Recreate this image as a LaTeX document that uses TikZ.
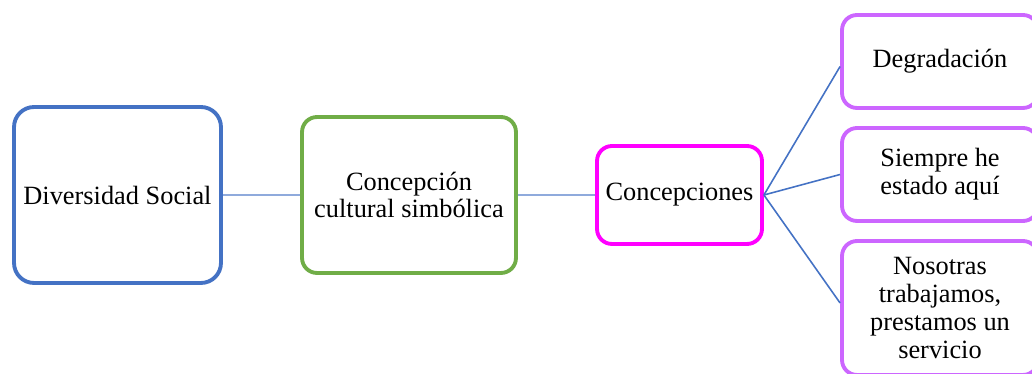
\documentclass[tikz,border=0pt]{standalone}
\usepackage{fontspec}
\setmainfont{Liberation Serif}
\usetikzlibrary{calc}
\definecolor{azul}{HTML}{4472C4}
\definecolor{verde}{HTML}{70AD47}
\definecolor{magenta}{HTML}{FF00FF}
\definecolor{violeta}{HTML}{CC66FF}
\definecolor{enlace}{HTML}{8FAADC}
\begin{document}
\begin{tikzpicture}[x=0.02cm,y=-0.02cm,
  caja/.style={draw=#1,line width=2.2pt,rounded corners=0.3cm,align=center,
    font=\fontsize{15}{15.8}\selectfont,inner sep=2pt,fill=white},
  recto/.style={enlace,line width=1.2pt},
  rama/.style={azul,line width=0.9pt}]

\useasboundingbox (0,0) rectangle (1032,374);
\clip (0,0) rectangle (1032,374);

\node[caja=azul,rounded corners=0.4cm,minimum width=4.14cm,minimum height=3.52cm] (diversidad) at (117.5,195) {Diversidad Social};
\node[caja=verde,minimum width=4.28cm,minimum height=3.12cm] (concepcion) at (409,195) {Concepción\\cultural simbólica};
\node[caja=magenta,minimum width=3.3cm,minimum height=1.96cm] (concepciones) at (679.5,195) {Concepciones};

\node[caja=violeta,minimum width=3.92cm,minimum height=1.86cm] (degradacion) at (940,61.5) {Degradación};
\node[caja=violeta,minimum width=3.92cm,minimum height=1.86cm] (siempre) at (940,174.5) {Siempre he\\estado aquí};
\node[caja=violeta,minimum width=3.92cm,minimum height=2.68cm] (nosotras) at (940,308) {Nosotras\\trabajamos,\\prestamos un\\servicio};

\draw[recto] (diversidad.east)--(concepcion.west);
\draw[recto] (concepcion.east)--(concepciones.west);

\draw[rama] (concepciones.east)--($(degradacion.west)+(0,5)$);
\draw[rama] (concepciones.east)--(siempre.west);
\draw[rama] (concepciones.east)--($(nosotras.west)+(0,-5)$);

\end{tikzpicture}
\end{document}
